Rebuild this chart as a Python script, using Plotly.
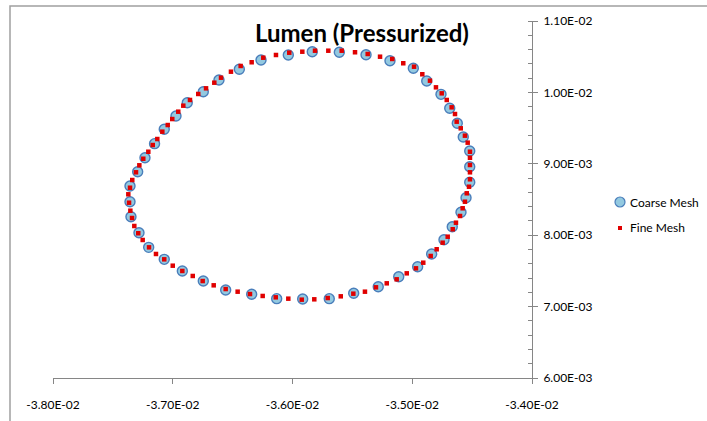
import plotly.graph_objects as go

# Coarse mesh lumen boundary nodes (x, y in metres)
coarse_x = [-0.034760, -0.034687, -0.034624, -0.034574, -0.034520, -0.034520, -0.034520, -0.034551,
            -0.034593, -0.034666, -0.034735, -0.034838, -0.034955, -0.035113, -0.035284, -0.035489,
            -0.035693, -0.035915, -0.036132, -0.036341, -0.036558, -0.036745, -0.036920, -0.037071,
            -0.037201, -0.037282, -0.037349, -0.037357, -0.037357, -0.037293, -0.037232, -0.037152,
            -0.037071, -0.036973, -0.036879, -0.036745, -0.036614, -0.036444, -0.036263, -0.036035,
            -0.035835, -0.035609, -0.035386, -0.035186, -0.034991, -0.034879]
coarse_y = [0.009973, 0.009777, 0.009567, 0.009375, 0.009179, 0.008959, 0.008741, 0.008525,
            0.008321, 0.008119, 0.007937, 0.007737, 0.007559, 0.007419, 0.007279, 0.007186,
            0.007111, 0.007106, 0.007111, 0.007172, 0.007232, 0.007358, 0.007499, 0.007662,
            0.007830, 0.008035, 0.008259, 0.008469, 0.008689, 0.008889, 0.009085, 0.009282,
            0.009483, 0.009669, 0.009856, 0.010010, 0.010174, 0.010324, 0.010454, 0.010524,
            0.010570, 0.010562, 0.010528, 0.010444, 0.010338, 0.010160]

# Fine mesh lumen boundary nodes
fine_x = [-0.037167, -0.037129, -0.037087, -0.037042, -0.037004, -0.036954, -0.036912, -0.036856,
          -0.036787, -0.036722, -0.036653, -0.036597, -0.036514, -0.036433, -0.036341, -0.036244,
          -0.036138, -0.036027, -0.035918, -0.035812, -0.035701, -0.035589, -0.035478, -0.035372,
          -0.035269, -0.035167, -0.035075, -0.034985, -0.034916, -0.034852, -0.034802, -0.034754,
          -0.034712, -0.034671, -0.034643, -0.034629, -0.034595, -0.034560, -0.034537, -0.034518,
          -0.034518, -0.034518, -0.034518, -0.034518, -0.034526, -0.034545, -0.034560, -0.034579,
          -0.034601, -0.034635, -0.034662, -0.034704, -0.034746, -0.034796, -0.034846, -0.034908,
          -0.034969, -0.035046, -0.035130, -0.035213, -0.035303, -0.035395, -0.035492, -0.035597,
          -0.035706, -0.035818, -0.035923, -0.036035, -0.036140, -0.036249, -0.036355, -0.036458,
          -0.036558, -0.036658, -0.036750, -0.036833, -0.036920, -0.037000, -0.037071, -0.037140,
          -0.037198, -0.037251, -0.037288, -0.037321, -0.037340, -0.037354, -0.037365, -0.037371,
          -0.037357, -0.037338, -0.037307, -0.037279, -0.037246, -0.037204]
fine_y = [0.009263, 0.009347, 0.009450, 0.009543, 0.009627, 0.009730, 0.009814, 0.009894,
          0.009978, 0.010057, 0.010136, 0.010206, 0.010290, 0.010370, 0.010422, 0.010486,
          0.010524, 0.010556, 0.010570, 0.010584, 0.010584, 0.010584, 0.010562, 0.010538,
          0.010500, 0.010468, 0.010408, 0.010360, 0.010254, 0.010164, 0.010071, 0.009987,
          0.009894, 0.009791, 0.009697, 0.009590, 0.009497, 0.009394, 0.009296, 0.009169,
          0.009085, 0.008983, 0.008881, 0.008783, 0.008679, 0.008587, 0.008469, 0.008377,
          0.008269, 0.008175, 0.008083, 0.007979, 0.007895, 0.007803, 0.007709, 0.007615,
          0.007536, 0.007466, 0.007382, 0.007326, 0.007270, 0.007209, 0.007181, 0.007144,
          0.007120, 0.007102, 0.007097, 0.007111, 0.007130, 0.007149, 0.007176, 0.007209,
          0.007246, 0.007298, 0.007358, 0.007429, 0.007499, 0.007573, 0.007662, 0.007737,
          0.007830, 0.007933, 0.008027, 0.008129, 0.008241, 0.008343, 0.008455, 0.008573,
          0.008665, 0.008773, 0.008881, 0.008979, 0.009071, 0.009169]

x_tick_vals = [-0.038, -0.037, -0.036, -0.035, -0.034]
x_tick_text = ["-3.80E-02", "-3.70E-02", "-3.60E-02", "-3.50E-02", "-3.40E-02"]
y_tick_vals = [0.006, 0.007, 0.008, 0.009, 0.010, 0.011]
y_tick_text = ["6.00E-03", "7.00E-03", "8.00E-03", "9.00E-03", "1.00E-02", "1.10E-02"]

series_names = ["Coarse Mesh", "Fine Mesh"]

FONT = "Lato"
AXIS_GREY = "#868686"
COARSE_FILL = "#93C9E0"
COARSE_EDGE = "#4A7EBB"
FINE_RED = "#E00000"

W, H = 707, 421
M_L, M_R, M_T, M_B = 53, 175, 21, 43
PW, PH = W - M_L - M_R, H - M_T - M_B


def px_to_paper(px, py):
    """Convert a window pixel position to paper coordinates."""
    return (px - M_L) / PW, (H - M_B - py) / PH


fig = go.Figure()
fig.add_trace(go.Scatter(
    x=coarse_x, y=coarse_y, mode="markers", name=series_names[0],
    marker=dict(symbol="circle", size=10, color=COARSE_FILL,
                line=dict(color=COARSE_EDGE, width=1.4)),
))
fig.add_trace(go.Scatter(
    x=fine_x, y=fine_y, mode="markers", name=series_names[1],
    marker=dict(symbol="square", size=4.5, color=FINE_RED, line=dict(width=0)),
))

fig.update_layout(
    width=W, height=H,
    margin=dict(l=M_L, r=M_R, t=M_T, b=M_B, autoexpand=False),
    paper_bgcolor="white", plot_bgcolor="white",
    font=dict(family=FONT, size=12, color="#000000"),
    title=dict(text="<b>Lumen (Pressurized)</b>", x=0.512, xref="container",
               xanchor="center", y=0.92, yref="container", yanchor="middle",
               font=dict(family=FONT, size=24, color="#000000")),
    showlegend=False,
    xaxis=dict(range=[-0.038, -0.034], tickvals=x_tick_vals, ticktext=x_tick_text,
               showgrid=False, zeroline=False, showline=True, linecolor=AXIS_GREY,
               linewidth=1, ticks="outside", ticklen=5, tickcolor=AXIS_GREY,
               ticklabelstandoff=11,
               tickfont=dict(family=FONT, size=12), automargin=False),
    yaxis=dict(range=[0.006, 0.011], tickvals=y_tick_vals, ticktext=y_tick_text,
               side="right", showgrid=False, zeroline=False, showline=True,
               linecolor=AXIS_GREY, linewidth=1, ticks="outside", ticklen=5,
               tickcolor=AXIS_GREY, tickfont=dict(family=FONT, size=12), automargin=False,
               ticklabelstandoff=3,
               minor=dict(ticks="inside", ticklen=4, tickcolor=AXIS_GREY, dtick=0.0002)),
)

# Legend keys drawn as shapes with text labels
cx0, cy0 = px_to_paper(615, 197)
cx1, cy1 = px_to_paper(625, 207)
fig.add_shape(type="circle", xref="paper", yref="paper", x0=cx0, x1=cx1, y0=cy1, y1=cy0,
              fillcolor=COARSE_FILL, line=dict(color=COARSE_EDGE, width=1.2))
sx0, sy0 = px_to_paper(618, 226)
sx1, sy1 = px_to_paper(622, 230)
fig.add_shape(type="rect", xref="paper", yref="paper", x0=sx0, x1=sx1, y0=sy1, y1=sy0,
              fillcolor=FINE_RED, line=dict(width=0))
for name, py in zip(series_names, [202, 228]):
    ax, ay = px_to_paper(628, py)
    fig.add_annotation(x=ax, y=ay, xref="paper", yref="paper", text=name,
                       showarrow=False, xanchor="left", yanchor="middle",
                       font=dict(family=FONT, size=12, color="#000000"))

# Chart-area frame
fx0, fy0 = px_to_paper(10, 6)
fx1, fy1 = px_to_paper(760, 470)
fig.add_shape(type="rect", xref="paper", yref="paper",
              x0=fx0, x1=fx1, y0=fy1, y1=fy0,
              line=dict(color="#A0A0A0", width=1.5), fillcolor="rgba(0,0,0,0)",
              layer="below")

fig.write_html("out.html")
